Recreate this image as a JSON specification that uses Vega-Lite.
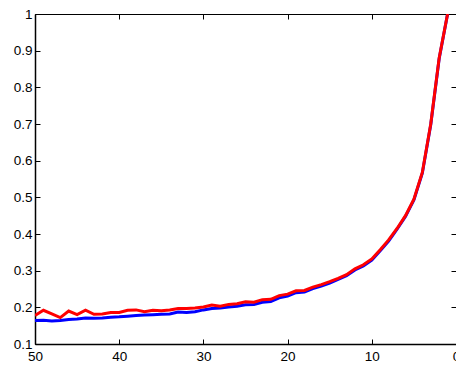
{
  "$schema": "https://vega.github.io/schema/vega-lite/v6.json",
  "width": 421,
  "height": 330,
  "autosize": {"type": "none"},
  "padding": {"left": 35, "top": 14, "right": 0, "bottom": 23},
  "background": "white",
  "config": {
    "view": {"stroke": "black", "strokeWidth": 1},
    "font": "Liberation Sans",
    "axis": {
      "grid": false,
      "domainColor": "black",
      "tickColor": "black",
      "labelColor": "black",
      "labelFont": "Liberation Sans",
      "labelFontSize": 13.5,
      "tickSize": -5,
      "title": null
    }
  },
  "datasets": {
    "curves": [
      {"x": 50, "series": "blue", "v": 0.164}, {"x": 49, "series": "blue", "v": 0.165}, {"x": 48, "series": "blue", "v": 0.163}, {"x": 47, "series": "blue", "v": 0.164}, {"x": 46, "series": "blue", "v": 0.167}, {"x": 45, "series": "blue", "v": 0.168}, {"x": 44, "series": "blue", "v": 0.171}, {"x": 43, "series": "blue", "v": 0.170}, {"x": 42, "series": "blue", "v": 0.171}, {"x": 41, "series": "blue", "v": 0.173}, {"x": 40, "series": "blue", "v": 0.174}, {"x": 39, "series": "blue", "v": 0.176}, {"x": 38, "series": "blue", "v": 0.178}, {"x": 37, "series": "blue", "v": 0.179}, {"x": 36, "series": "blue", "v": 0.180}, {"x": 35, "series": "blue", "v": 0.181}, {"x": 34, "series": "blue", "v": 0.182}, {"x": 33, "series": "blue", "v": 0.187}, {"x": 32, "series": "blue", "v": 0.186}, {"x": 31, "series": "blue", "v": 0.188}, {"x": 30, "series": "blue", "v": 0.193}, {"x": 29, "series": "blue", "v": 0.197}, {"x": 28, "series": "blue", "v": 0.198}, {"x": 27, "series": "blue", "v": 0.201}, {"x": 26, "series": "blue", "v": 0.203}, {"x": 25, "series": "blue", "v": 0.207}, {"x": 24, "series": "blue", "v": 0.208}, {"x": 23, "series": "blue", "v": 0.214}, {"x": 22, "series": "blue", "v": 0.216}, {"x": 21, "series": "blue", "v": 0.226}, {"x": 20, "series": "blue", "v": 0.231}, {"x": 19, "series": "blue", "v": 0.240}, {"x": 18, "series": "blue", "v": 0.242}, {"x": 17, "series": "blue", "v": 0.251}, {"x": 16, "series": "blue", "v": 0.258}, {"x": 15, "series": "blue", "v": 0.266}, {"x": 14, "series": "blue", "v": 0.276}, {"x": 13, "series": "blue", "v": 0.286}, {"x": 12, "series": "blue", "v": 0.302}, {"x": 11, "series": "blue", "v": 0.313}, {"x": 10, "series": "blue", "v": 0.329}, {"x": 9, "series": "blue", "v": 0.354}, {"x": 8, "series": "blue", "v": 0.381}, {"x": 7, "series": "blue", "v": 0.413}, {"x": 6, "series": "blue", "v": 0.448}, {"x": 5, "series": "blue", "v": 0.493}, {"x": 4, "series": "blue", "v": 0.566}, {"x": 3, "series": "blue", "v": 0.698}, {"x": 2, "series": "blue", "v": 0.878}, {"x": 1, "series": "blue", "v": 1.0},
      {"x": 50, "series": "red", "v": 0.178}, {"x": 49, "series": "red", "v": 0.192}, {"x": 48, "series": "red", "v": 0.182}, {"x": 47, "series": "red", "v": 0.172}, {"x": 46, "series": "red", "v": 0.190}, {"x": 45, "series": "red", "v": 0.180}, {"x": 44, "series": "red", "v": 0.192}, {"x": 43, "series": "red", "v": 0.181}, {"x": 42, "series": "red", "v": 0.182}, {"x": 41, "series": "red", "v": 0.186}, {"x": 40, "series": "red", "v": 0.186}, {"x": 39, "series": "red", "v": 0.192}, {"x": 38, "series": "red", "v": 0.193}, {"x": 37, "series": "red", "v": 0.188}, {"x": 36, "series": "red", "v": 0.192}, {"x": 35, "series": "red", "v": 0.191}, {"x": 34, "series": "red", "v": 0.193}, {"x": 33, "series": "red", "v": 0.197}, {"x": 32, "series": "red", "v": 0.197}, {"x": 31, "series": "red", "v": 0.198}, {"x": 30, "series": "red", "v": 0.201}, {"x": 29, "series": "red", "v": 0.206}, {"x": 28, "series": "red", "v": 0.203}, {"x": 27, "series": "red", "v": 0.208}, {"x": 26, "series": "red", "v": 0.210}, {"x": 25, "series": "red", "v": 0.215}, {"x": 24, "series": "red", "v": 0.214}, {"x": 23, "series": "red", "v": 0.221}, {"x": 22, "series": "red", "v": 0.222}, {"x": 21, "series": "red", "v": 0.232}, {"x": 20, "series": "red", "v": 0.236}, {"x": 19, "series": "red", "v": 0.245}, {"x": 18, "series": "red", "v": 0.246}, {"x": 17, "series": "red", "v": 0.255}, {"x": 16, "series": "red", "v": 0.262}, {"x": 15, "series": "red", "v": 0.270}, {"x": 14, "series": "red", "v": 0.279}, {"x": 13, "series": "red", "v": 0.289}, {"x": 12, "series": "red", "v": 0.305}, {"x": 11, "series": "red", "v": 0.316}, {"x": 10, "series": "red", "v": 0.332}, {"x": 9, "series": "red", "v": 0.357}, {"x": 8, "series": "red", "v": 0.384}, {"x": 7, "series": "red", "v": 0.415}, {"x": 6, "series": "red", "v": 0.450}, {"x": 5, "series": "red", "v": 0.495}, {"x": 4, "series": "red", "v": 0.568}, {"x": 3, "series": "red", "v": 0.700}, {"x": 2, "series": "red", "v": 0.880}, {"x": 1, "series": "red", "v": 1.0}
    ]
  },
  "data": {"name": "curves"},
  "layer": [
    {
      "mark": {"type": "line", "strokeWidth": 3, "clip": true},
      "encoding": {
        "x": {"field": "x", "type": "quantitative",
              "scale": {"domain": [0, 50], "reverse": true, "nice": false},
              "axis": {"orient": "bottom", "values": [0, 10, 20, 30, 40, 50], "labelPadding": 10, "labelFlush": false, "domainWidth": 1.5}},
        "y": {"field": "v", "type": "quantitative",
              "scale": {"domain": [0.1, 1], "nice": false, "zero": false},
              "axis": {"orient": "left", "values": [0.1, 0.2, 0.3, 0.4, 0.5, 0.6, 0.7, 0.8, 0.9, 1], "format": "~g", "labelPadding": 8, "labelFlush": false, "domainWidth": 1.5}},
        "color": {"field": "series", "type": "nominal",
                  "scale": {"domain": ["blue", "red"], "range": ["#0000ff", "#ff0000"]},
                  "legend": null}
      }
    },
    {
      "mark": {"type": "line", "opacity": 0},
      "encoding": {
        "x": {"field": "x", "type": "quantitative",
              "axis": {"orient": "top", "values": [0, 10, 20, 30, 40, 50], "labels": false, "domain": false}},
        "y": {"field": "v", "type": "quantitative",
              "axis": {"orient": "right", "values": [0.1, 0.2, 0.3, 0.4, 0.5, 0.6, 0.7, 0.8, 0.9, 1], "labels": false, "domain": false}},
        "detail": {"field": "series"}
      }
    }
  ],
  "resolve": {"axis": {"x": "independent", "y": "independent"}}
}
